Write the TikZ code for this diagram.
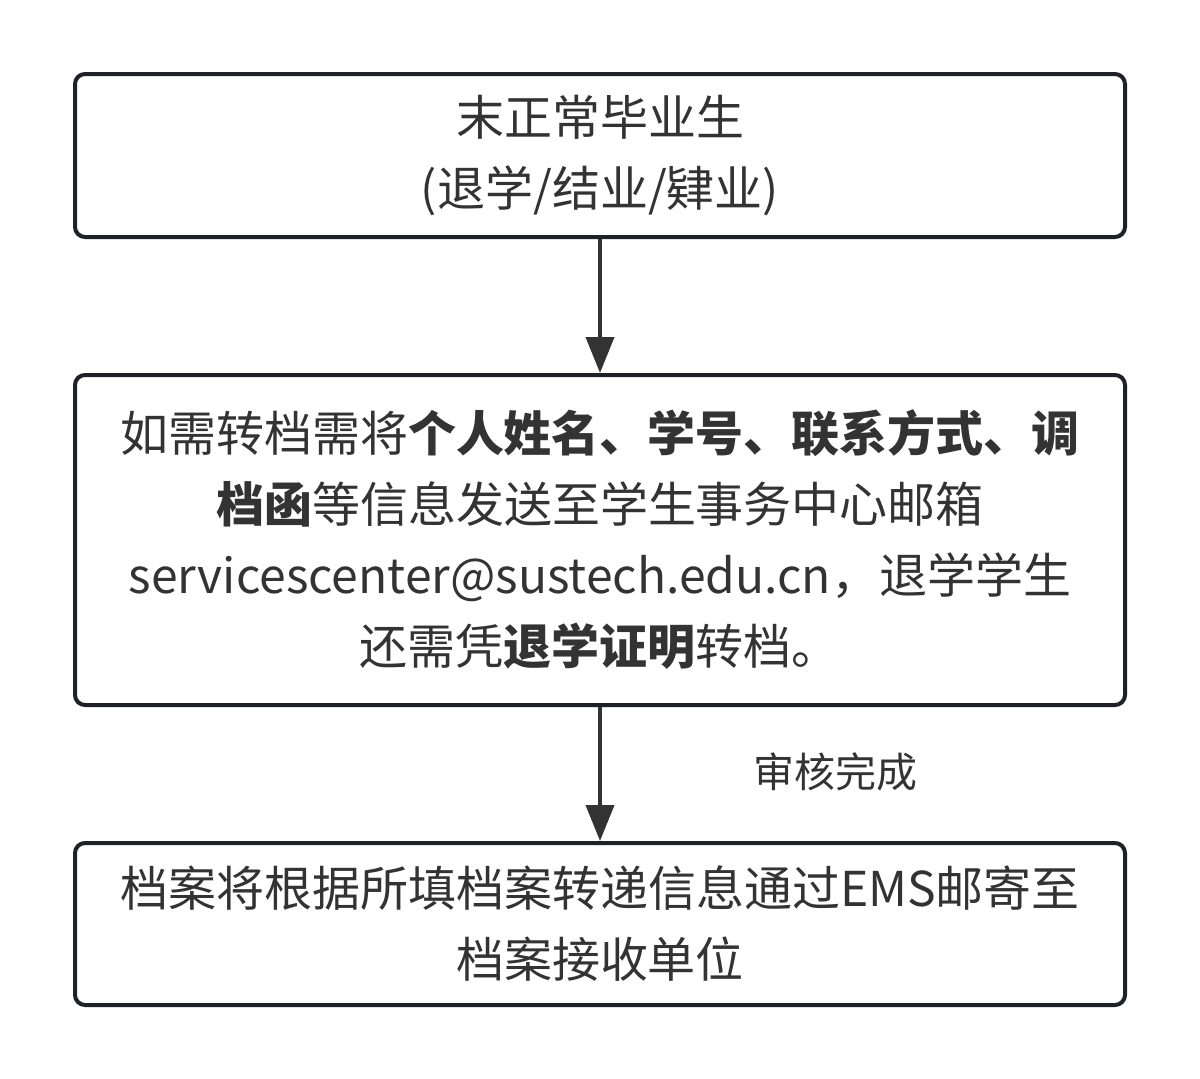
\documentclass[tikz,border=0pt]{standalone}
\usepackage{fontspec}
\setmainfont{Noto Sans CJK SC}
\newfontfamily\cjkbold{Noto Sans CJK SC Bold}
\usetikzlibrary{arrows.meta}
\definecolor{boxline}{RGB}{30,34,40}
\definecolor{txt}{RGB}{51,51,51}
\definecolor{arr}{RGB}{51,51,51}
\tikzset{
  flowbox/.style={draw=boxline, line width=4pt, rounded corners=10pt, fill=white,
    minimum width=1050pt, inner sep=0pt, align=center, text=txt,
    font=\fontsize{48pt}{71pt}\selectfont},
  flowarrow/.style={draw=arr, line width=4pt, -{Triangle[length=36pt,width=28pt]}},
  lbl/.style={text=txt, font=\fontsize{41pt}{48pt}\selectfont, inner sep=0pt}
}
\newcommand{\bt}[1]{{\bfseries #1}}
\begin{document}
\begin{tikzpicture}[x=1pt,y=-1pt]
\useasboundingbox (0,0) rectangle (1200,1079);
\node[flowbox, minimum height=163pt] (top) at (600,155.5) {末正常毕业生\\(退学/结业/肄业)};
\node[flowbox, minimum height=330pt] (mid) at (600,540) {如需转档需将\bt{个人姓名、学号、联系方式、调}\\\bt{档函}等信息发送至学生事务中心邮箱\\servicescenter@sustech.edu.cn，退学学生\\还需凭\bt{退学证明}转档。};
\node[flowbox, minimum height=162pt] (bot) at (600,924) {档案将根据所填档案转递信息通过EMS邮寄至\\档案接收单位};
\draw[flowarrow] (top.south) -- (mid.north);
\draw[flowarrow] (mid.south) -- (bot.north);
\node[lbl] (lab) at (835,772) {审核完成};
\end{tikzpicture}
\end{document}
